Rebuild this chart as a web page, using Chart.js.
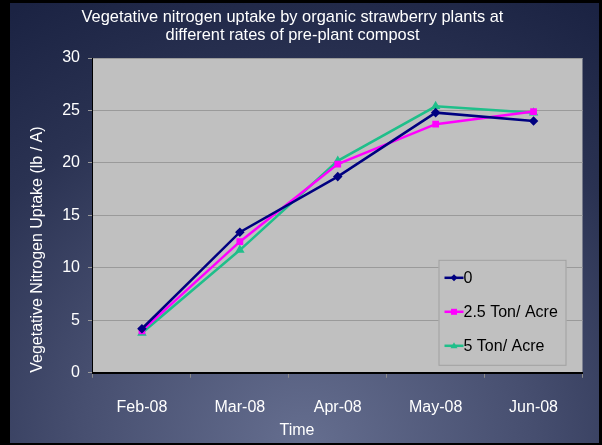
<!DOCTYPE html>
<html>
<head>
<meta charset="utf-8">
<script src="https://cdn.jsdelivr.net/npm/chart.js@4/dist/chart.umd.min.js"></script>
<style>
  html, body { margin: 0; padding: 0; background: #000; overflow: hidden; }
  .slide {
    position: absolute; left: 10px; top: 3px; width: 589px; height: 440px;
    background: radial-gradient(ellipse 95% 115% at 50% 100%, #656e8f 0%, #474f70 40%, #2a3252 72%, #1b2343 100%);
  }
  #chart { position: absolute; left: -4px; top: 0; }
</style>
</head>
<body>
<div class="slide"></div>
<canvas id="chart" width="593" height="445"></canvas>
<script>
// values
const months = ['Feb-08', 'Mar-08', 'Apr-08', 'May-08', 'Jun-08'];
const rate0 = [4.2, 13.4, 18.7, 24.8, 24.0];
const rate25 = [4.0, 12.5, 19.9, 23.7, 24.9];
const rate5 = [3.8, 11.7, 20.2, 25.4, 24.8];
const seriesNames = ['0', '2.5 Ton/ Acre', '5 Ton/ Acre'];
const yTicks = [0, 5, 10, 15, 20, 25, 30];

const FONT = '"Liberation Sans", Arial, sans-serif';

// plot background, "Time" label and the boxed legend inside the plot
const slideExtras = {
    id: 'slideExtras',
    beforeDraw(chart) {
        const { ctx, chartArea: a } = chart;
        ctx.save();
        ctx.fillStyle = '#c0c0c0';
        ctx.fillRect(a.left, a.top, a.right - a.left, a.bottom - a.top);
        ctx.restore();
    },
    afterDraw(chart) {
        const { ctx, chartArea: a } = chart;
        ctx.save();
        ctx.font = '16px ' + FONT;
        ctx.fillStyle = '#ffffff';
        ctx.textAlign = 'center';
        ctx.textBaseline = 'middle';
        ctx.fillText('Time', chart.width / 2 + 4.5, a.bottom + 58);

        // legend box
        const bw = 128, bh = 106;
        const bx = a.right - 16 - bw, by = a.bottom - 7 - bh;
        ctx.fillStyle = '#c0c0c0';
        ctx.fillRect(bx, by, bw, bh);
        ctx.strokeStyle = '#a0a0a0';
        ctx.lineWidth = 1;
        ctx.strokeRect(bx + 0.5, by + 0.5, bw - 1, bh - 1);
        ctx.textAlign = 'left';
        chart.data.datasets.forEach((ds, i) => {
            const y = by + 18 + i * 34;
            const x0 = bx + 6, x1 = bx + 25;
            ctx.strokeStyle = ds.borderColor;
            ctx.lineWidth = 2.5;
            ctx.beginPath();
            ctx.moveTo(x0, y);
            ctx.lineTo(x1, y);
            ctx.stroke();
            ctx.fillStyle = ds.borderColor;
            const m = (x0 + x1) / 2;
            ctx.beginPath();
            if (ds.pointStyle === 'rect') {
                ctx.rect(m - 3, y - 3, 6, 6);
            } else if (ds.pointStyle === 'triangle') {
                ctx.moveTo(m, y - 3.5); ctx.lineTo(m + 3.5, y + 2.5); ctx.lineTo(m - 3.5, y + 2.5); ctx.closePath();
            } else {
                ctx.moveTo(m, y - 3.5); ctx.lineTo(m + 3.5, y); ctx.lineTo(m, y + 3.5); ctx.lineTo(m - 3.5, y); ctx.closePath();
            }
            ctx.fill();
            ctx.fillStyle = '#000000';
            ctx.fillText(ds.label, x1, y + 1);
        });
        ctx.restore();
    }
};

const ctx = document.getElementById('chart').getContext('2d');
const nitrogenChart = new Chart(ctx, {
    type: 'line',
    data: {
        labels: months,
        datasets: [
            {
                label: seriesNames[0],
                data: rate0,
                borderColor: '#000080',
                backgroundColor: '#000080',
                pointStyle: 'rectRot',
                pointRadius: 3,
                borderWidth: 2.5,
                fill: false,
            },
            {
                label: seriesNames[1],
                data: rate25,
                borderColor: '#ff00ff',
                backgroundColor: '#ff00ff',
                pointStyle: 'rect',
                pointRadius: 3,
                borderWidth: 2.5,
                fill: false,
            },
            {
                label: seriesNames[2],
                data: rate5,
                borderColor: '#1fbf8a',
                backgroundColor: '#1fbf8a',
                pointStyle: 'triangle',
                pointRadius: 3,
                borderWidth: 2.5,
                fill: false,
            },
        ],
    },
    options: {
        responsive: false,
        animation: false,
        layout: { padding: { bottom: 8 } },
        plugins: {
            legend: { display: false },
            tooltip: { enabled: false },
            title: {
                display: true,
                text: ['Vegetative nitrogen uptake by organic strawberry plants at', 'different rates of pre-plant compost'],
                color: '#ffffff',
                font: { family: FONT, size: 16.4, weight: 'normal', lineHeight: 1.1 },
                padding: { top: 8, bottom: 14 },
            },
        },
        scales: {
            x: {
                offset: true,
                grid: { offset: true, drawOnChartArea: false, tickLength: 5, color: '#8a8a8a' },
                border: { color: '#000000', width: 2 },
                ticks: { color: '#ffffff', padding: 20, font: { family: FONT, size: 16 }, maxRotation: 0 },
            },
            y: {
                min: 0,
                max: 30,
                afterBuildTicks(scale) { scale.ticks = yTicks.map(v => ({ value: v })); },
                grid: { color: '#9a9a9a', tickLength: 5 },
                border: { color: '#000000', width: 1 },
                ticks: { color: '#ffffff', padding: 8, font: { family: FONT, size: 16 } },
                title: {
                    display: true,
                    text: 'Vegetative Nitrogen Uptake (lb / A)',
                    align: 'start',
                    color: '#ffffff',
                    font: { family: FONT, size: 16 },
                    padding: { top: 32, bottom: 7 },
                },
            },
        },
    },
    plugins: [slideExtras],
});
</script>
</body>
</html>
